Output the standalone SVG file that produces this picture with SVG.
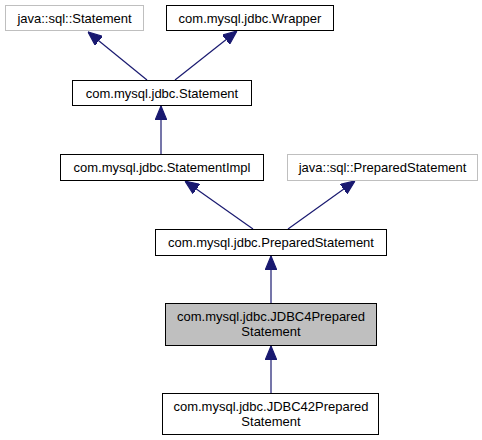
<svg xmlns="http://www.w3.org/2000/svg" width="482" height="440" viewBox="0 0 482 440">
<defs>
<style>
text{font-family:"Liberation Sans",Arial,sans-serif;font-size:13px;text-anchor:middle;fill:#000}
.ext rect{fill:#fff;stroke:#bfbfbf;stroke-width:1}
.cls rect{fill:#fff;stroke:#000;stroke-width:1}
.cur rect{fill:#bfbfbf;stroke:#000;stroke-width:1}
.edge{stroke:#191970;stroke-width:1.2;fill:none;marker-end:url(#ah)}
</style>
<marker id="ah" markerUnits="userSpaceOnUse" markerWidth="14" markerHeight="12" refX="12" refY="5" orient="auto" viewBox="0 0 12 10">
<path d="M0,0 L12,5 L0,10 Z" fill="#191970" stroke="#191970"/>
</marker>
</defs>
<rect width="482" height="440" fill="#fff"/>
<g id="connectors">
<line class="edge" x1="147" y1="80" x2="88" y2="32"/>
<line class="edge" x1="175" y1="80" x2="237" y2="31"/>
<line class="edge" x1="161" y1="154" x2="161" y2="106"/>
<line class="edge" x1="253" y1="229" x2="185" y2="181"/>
<line class="edge" x1="288" y1="229" x2="355" y2="181"/>
<line class="edge" x1="271" y1="303" x2="271" y2="256"/>
<line class="edge" x1="271" y1="393" x2="271" y2="346"/>
</g>
<g id="java_sql_Statement" class="ext"><rect x="5.5" y="5.5" width="138" height="25"/><text x="74.5" y="22.5">java::sql::Statement</text></g>
<g id="Wrapper" class="cls"><rect x="166.5" y="5.5" width="167" height="25"/><text x="250" y="22.5">com.mysql.jdbc.Wrapper</text></g>
<g id="Statement" class="cls"><rect x="72.5" y="80.5" width="179" height="25"/><text x="162" y="97.5">com.mysql.jdbc.Statement</text></g>
<g id="StatementImpl" class="cls"><rect x="60.5" y="154.5" width="203" height="26"/><text x="162" y="172">com.mysql.jdbc.StatementImpl</text></g>
<g id="java_sql_PreparedStatement" class="ext"><rect x="287.5" y="154.5" width="190" height="26"/><text x="382.5" y="172">java::sql::PreparedStatement</text></g>
<g id="PreparedStatement" class="cls"><rect x="155.5" y="229.5" width="231" height="26"/><text x="271" y="247">com.mysql.jdbc.PreparedStatement</text></g>
<g id="JDBC4PreparedStatement" class="cur"><rect x="165.5" y="303.5" width="211" height="42"/><text x="271" y="321">com.mysql.jdbc.JDBC4Prepared</text><text x="271" y="336">Statement</text></g>
<g id="JDBC42PreparedStatement" class="cls"><rect x="162.5" y="393.5" width="216" height="41"/><text x="271" y="411">com.mysql.jdbc.JDBC42Prepared</text><text x="271" y="426">Statement</text></g>
</svg>
